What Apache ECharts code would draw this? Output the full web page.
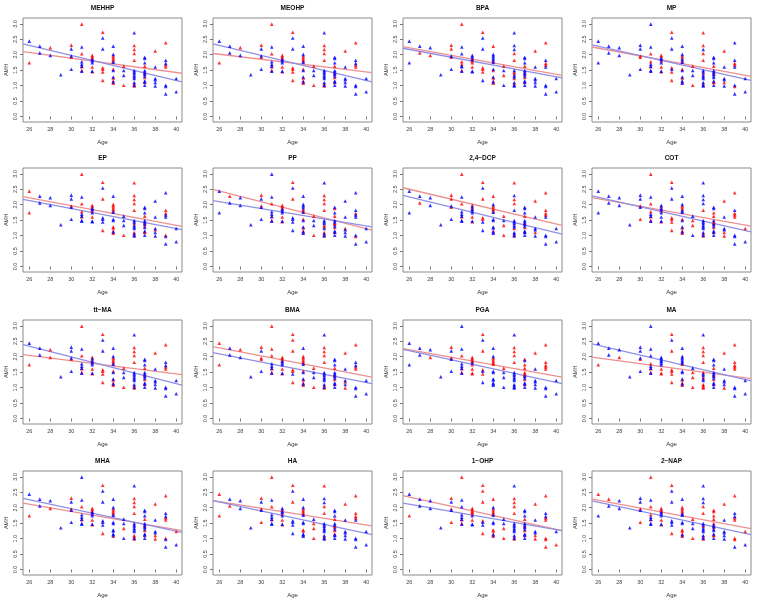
<!DOCTYPE html>
<html><head><meta charset="utf-8">
<script src="https://cdn.jsdelivr.net/npm/echarts@6/dist/echarts.min.js"></script>
<style>html,body{margin:0;padding:0;background:#fff}#c{width:757px;height:615px}</style>
</head><body><div id="c"></div>
<script>
// ---- data ----
const panelTitles = ["MEHHP","MEOHP","BPA","MP","EP","PP","2,4\u2212DCP","COT","tt\u2212MA","BMA","PGA","MA","MHA","HA","1\u2212OHP","2\u2212NAP"];
const ageGroups = [26,27,28,29,30,31,32,33,34,35,36,37,38,39,40];
const amhByAge = [
  [2.44,1.74],
  [2.28,2.06],
  [2.23,1.98],
  [1.35],
  [2.31,2.19,1.96,1.92,1.53],
  [2.99,2.25,2.03,1.77,1.69,1.63,1.61,1.49,1.47],
  [1.98,1.94,1.88,1.85,1.80,1.74,1.60,1.47,1.45],
  [2.73,2.54,2.19,1.58,1.53,1.44,1.17],
  [2.28,2.01,1.96,1.90,1.85,1.80,1.76,1.53,1.49,1.28,1.25,1.15,1.12,1.08],
  [1.63,1.49,1.33,1.01],
  [2.71,2.30,2.17,2.04,1.82,1.49,1.44,1.39,1.33,1.28,1.23,1.10,1.06,1.01,0.99],
  [1.92,1.88,1.74,1.63,1.49,1.44,1.40,1.37,1.31,1.26,1.15,1.12,1.10,1.01],
  [2.12,1.60,1.23,1.19,1.10,0.99],
  [2.39,1.82,1.72,1.67,1.60,1.01,0.97,0.73],
  [1.23,0.80]
];
// group colour per point (R = red group, B = blue group), same order as amhByAge
const colorsByPanel = [
  "BR BB RB B RBBRB RBRBBBRRB RRRBBBRBR RBBRRRR BBRRRRBRBBRRBR RBBR BRRRRBBBBBBBRBR BBBRBBRBBRBBRB RBBBBB RBBRRBBB BB",
  "BR BB RB B RBBRB RBRBBBRRB RRRBBBRBR RBBRRRR BBRRRRBRBBRRBR RBBR BRRRRBBBBBBBRBR BBBRBBRBBRBBRB RBBBBB RBBRRBBB BB",
  "BB BR BR B RRBRB RBBRRBBRB BBRBRRRBB RBBRRRB RBBBBRBBRBRRBR RBRB BBBRRBRRBBRBRBB BBBRBBRBBRBBRB RBBBBB RBRRBBBB BB",
  "BB BB BB B BBRRB BBRRBBRBB RRBBRBRBR RBBRBRR BBRRBRBRBBRBRB RBBR RRBRRBBRBBBBRBB BBBRBBRBBBBRRB RBBBRB BBRRBBRB BB",
  "RR BB BB B BBRBB RBRRBBRBB RRBBRBRBB RBRBBBR BRRRRRBBBRRRBR BBBR RRRRRBBRBBBRBRB BBBRBBRBRBBRRB BBBRBB BRRBBRBB BB",
  "BB RB BB B RBRBB BBRBBRBRB RRRBBBRBR RBRBBBB BBBBRRBRBBRRBB RBBR BRRRRBBBRRBRBRB BRBRBBRRBRBBRB BBRBBB BBRBBBRB BB",
  "BB BR BB B RRBRB RBRBBBRBB RBRBBBRBR RBRRRBB RBRRRRBBBBBRBB RBRR RBRRBBBBBBRBBRB BBBRBBRBBRBBBB RBBBRB RRRRBBBB BB",
  "BB BB BB B BBRBR RBRRBBRRB BRBBRBBBR RBBRRRR BBRRRBBRBBRRBR BRRB BBBBRBBBBBBBRBR BBRRBRRBBRBBRB RBBBRR RBRRRBBB RB",
  "BR BB RR B BBBRB RBRBBBRRB RBRBBBRBR RBBRRRR BBRRRRBRBBRRBR RBBR BRRRRBBBBBBBRBR BBBRBBRBBRBBRB RBBBBB RBBRRBBB BB",
  "RR BB RB B RBRRB RRRBBBRRB RRRBBBRBR RRRRRBR BRRRRRBRBBRRBR RBBR BRRRRBBBBBBBRBR BBBRBBRBBRBBRB RBBRBR RBBRRBBB BB",
  "BB BB BR B RBRBB BBRBBBRRB RRRRBRRRR RBRRBRB BBRRRRRBBBBBBB RBBB BRRRRBBBBBBBBBB RBRRRRRBBRBBRB RBBBBB RRRRRBBB BB",
  "BR BB BR B BBBRB BBBRBBRRB BBBBBBRRR RBRRRRR BBBBBBRBBBRRBR BRRR BRRRRRBBRBBRRRR BBBRBBRBBRBBRB RBBBBR RRRRRBBB BB",
  "BR BB BR B RBRBB BBRBBBRBB RRRBBBRBR RBBBBBR BBRRRRBBBBBBBR BBRB BRRRRBBBBBBRRBR BBBRBBRBBRBBRB RBBBRR RBBRRRBB RB",
  "RR BR BB B RBRBR RBRBBBRBB BRBBRBRBR RBRBBBB BBRRRRBBBRRBBB BRRR RBBRRBBBBBBBRBB BBBRBBRRBRRBBB RBBBBB RRRRBBBB BB",
  "BR BB BB B RBRBR RBBBBBRRB RRRRRBRBB RRRRBBR RBRRRRBBBRRRBR BBRR BRRRRBBBBBBBRBR BBBRBBRBBRBBRB RBBBRR RBBRRRRR BR",
  "RB RB BB B BBRBR RBRRBBRBB RRRBBBRBR RBBBBBR BRRRRBBBBRRRBR RBBR BBBRRBBRBBBBRBR RRRRRBBRBBBRRB RBBBBB RBBRRRRB RB"
];
// fitted lines: AMH at the left and right edges of the plot box
const redLineEnds = [
  [2.10,1.40],[2.04,1.42],[2.26,1.33],[2.25,1.30],
  [2.26,1.30],[2.50,1.18],[2.55,1.33],[2.23,1.31],
  [2.07,1.42],[2.33,1.34],[2.26,1.34],[1.99,1.29],
  [2.15,1.26],[2.23,1.41],[2.39,1.26],[2.28,1.32]
];
const blueLineEnds = [
  [2.35,1.12],[2.35,1.12],[2.21,1.25],[2.32,1.17],
  [2.17,1.19],[2.13,1.28],[2.30,1.05],[2.29,1.12],
  [2.39,1.08],[2.13,1.13],[2.24,1.13],[2.42,1.22],
  [2.30,1.20],[2.23,1.13],[2.15,1.26],[2.22,1.13]
];
const xTicks = [26,28,30,32,34,36,38,40];
const yTicks = [0,0.5,1,1.5,2,2.5,3];

// ---- layout ----
const xRange = [25.4, 40.55];
const yRange = [-0.18, 3.19];
const colLeft = [23, 213, 403, 592];
const rowTop = [18, 168, 320, 471];
const boxW = 159, boxH = 104;
const FONT = '"Liberation Sans", Arial, Helvetica, sans-serif';

const grids = [], xAxes = [], yAxes = [], series = [], graphics = [];
for (let p = 0; p < 16; p++) {
  const col = p % 4, row = Math.floor(p / 4);
  grids.push({left: colLeft[col], top: rowTop[row], width: boxW, height: boxH,
    show: true, borderColor: '#8a8a8a', borderWidth: 1, backgroundColor: '#fff'});
  xAxes.push({type: 'value', gridIndex: p, min: xRange[0], max: xRange[1],
    name: 'Age', nameLocation: 'middle', nameGap: 17,
    nameTextStyle: {fontSize: 6, color: '#333', fontFamily: FONT},
    axisLine: {show: false}, splitLine: {show: false},
    axisTick: {show: true, length: 3, inside: false, customValues: xTicks, lineStyle: {color: '#777'}},
    axisLabel: {customValues: xTicks, fontSize: 5.5, color: '#444', margin: 4, fontFamily: FONT}
  });
  yAxes.push({type: 'value', gridIndex: p, min: yRange[0], max: yRange[1],
    name: 'AMH', nameLocation: 'middle', nameGap: 14, nameRotate: 90,
    nameTextStyle: {fontSize: 5.5, color: '#333', fontFamily: FONT},
    axisLine: {show: false}, splitLine: {show: false},
    axisTick: {show: true, length: 3, inside: false, customValues: yTicks, lineStyle: {color: '#777'}},
    axisLabel: {customValues: yTicks, rotate: 90, fontSize: 5.5, color: '#444', margin: 5, fontFamily: FONT,
      formatter: v => Number(v).toFixed(1)}
  });
  const cols = colorsByPanel[p].replace(/\s+/g, '');
  const red = [], blue = [];
  let k = 0;
  ageGroups.forEach((age, i) => {
    amhByAge[i].forEach(v => {
      const c = cols[k++];
      if (c === 'R') red.push([age, v]); else blue.push([age, v]);
    });
  });
  series.push({type: 'line', xAxisIndex: p, yAxisIndex: p, symbol: 'none', silent: true,
    data: [[xRange[0], redLineEnds[p][0]], [xRange[1], redLineEnds[p][1]]],
    lineStyle: {color: '#ee9090', width: 1.3}, z: 3});
  series.push({type: 'line', xAxisIndex: p, yAxisIndex: p, symbol: 'none', silent: true,
    data: [[xRange[0], blueLineEnds[p][0]], [xRange[1], blueLineEnds[p][1]]],
    lineStyle: {color: '#9090e6', width: 1.3}, z: 3});
  series.push({type: 'scatter', xAxisIndex: p, yAxisIndex: p, data: red, symbol: 'triangle',
    symbolSize: 3.6, itemStyle: {color: '#ff0000'}, z: 4});
  series.push({type: 'scatter', xAxisIndex: p, yAxisIndex: p, data: blue, symbol: 'triangle',
    symbolSize: 3.6, itemStyle: {color: '#0000ff'}, z: 4});
  graphics.push({type: 'text', x: colLeft[col] + boxW / 2, y: rowTop[row] - 10,
    style: {text: panelTitles[p], textAlign: 'center', textVerticalAlign: 'middle',
      font: 'bold 6.5px ' + FONT, fill: '#111'}});
}

const chart = echarts.init(document.getElementById('c'), null, {renderer: 'canvas'});
chart.setOption({
  animation: false,
  backgroundColor: '#fff',
  grid: grids, xAxis: xAxes, yAxis: yAxes, series: series,
  graphic: graphics
});
</script></body></html>
